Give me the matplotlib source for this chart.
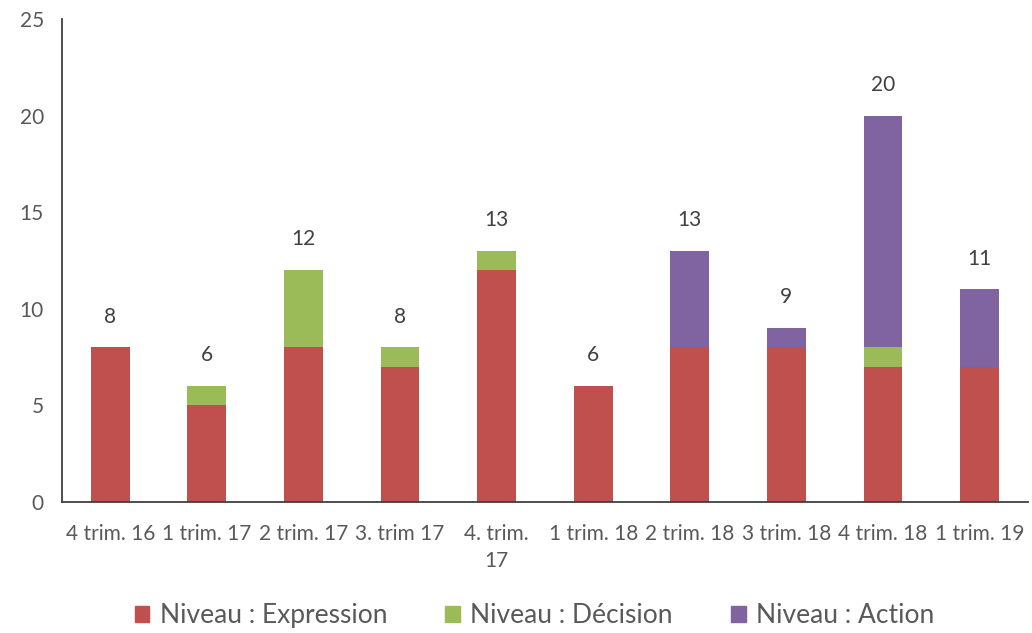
import numpy as np
import matplotlib
matplotlib.use("Agg")
import matplotlib.pyplot as plt
from matplotlib.patches import Patch

plt.rcParams['font.family'] = ['Lato', 'DejaVu Sans']

# data
categories = ["4 trim. 16", "1 trim. 17", "2 trim. 17", "3. trim 17", "4. trim.\n17",
              "1 trim. 18", "2 trim. 18", "3 trim. 18", "4 trim. 18", "1 trim. 19"]
expression = [8, 5, 8, 7, 12, 6, 8, 8, 7, 7]
decision = [0, 1, 4, 1, 1, 0, 0, 0, 1, 0]
action = [0, 0, 0, 0, 0, 0, 5, 1, 12, 4]

c_exp = '#C0504D'
c_dec = '#9BBB59'
c_act = '#8064A2'
txt = '#595959'

fig = plt.figure(figsize=(10.32, 6.33), dpi=100)
ax = fig.add_axes([0.060, 0.207, 0.936, 0.763])

x = np.arange(len(categories))
w = 0.4
exp = np.array(expression)
dec = np.array(decision)
act = np.array(action)

ax.bar(x, exp, w, color=c_exp)
ax.bar(x, dec, w, bottom=exp, color=c_dec)
ax.bar(x, act, w, bottom=exp + dec, color=c_act)

totals = exp + dec + act
for xi, t in zip(x, totals):
    ax.annotate(str(t), (xi, t), xytext=(0, 15), textcoords='offset points',
                ha='center', va='bottom', fontsize=15, color='#404040')

ax.set_xlim(-0.5, len(categories) - 0.5)
ax.set_ylim(0, 25)
ax.set_yticks([0, 5, 10, 15, 20, 25])
ax.set_xticks(x)
ax.set_xticklabels(categories, fontsize=15, color=txt, linespacing=1.45)
ax.tick_params(axis='y', labelsize=15, labelcolor=txt, length=0, pad=13)
ax.tick_params(axis='x', length=0, pad=16)

for s in ['top', 'right']:
    ax.spines[s].set_visible(False)
ax.spines['left'].set_color('#404040')
ax.spines['bottom'].set_color('#404040')
ax.spines['left'].set_linewidth(1.3)
ax.spines['bottom'].set_linewidth(1.3)

handles = [Patch(color=c_exp, label='Niveau : Expression'),
           Patch(color=c_dec, label='Niveau : Décision'),
           Patch(color=c_act, label='Niveau : Action')]
fig.legend(handles=handles, loc='center', bbox_to_anchor=(0.518, 0.027), ncol=3,
           frameon=False, fontsize=19, handlelength=0.55, handleheight=0.55,
           columnspacing=2.2, handletextpad=0.4, labelcolor=txt)

fig.savefig('out.png', dpi=100)
